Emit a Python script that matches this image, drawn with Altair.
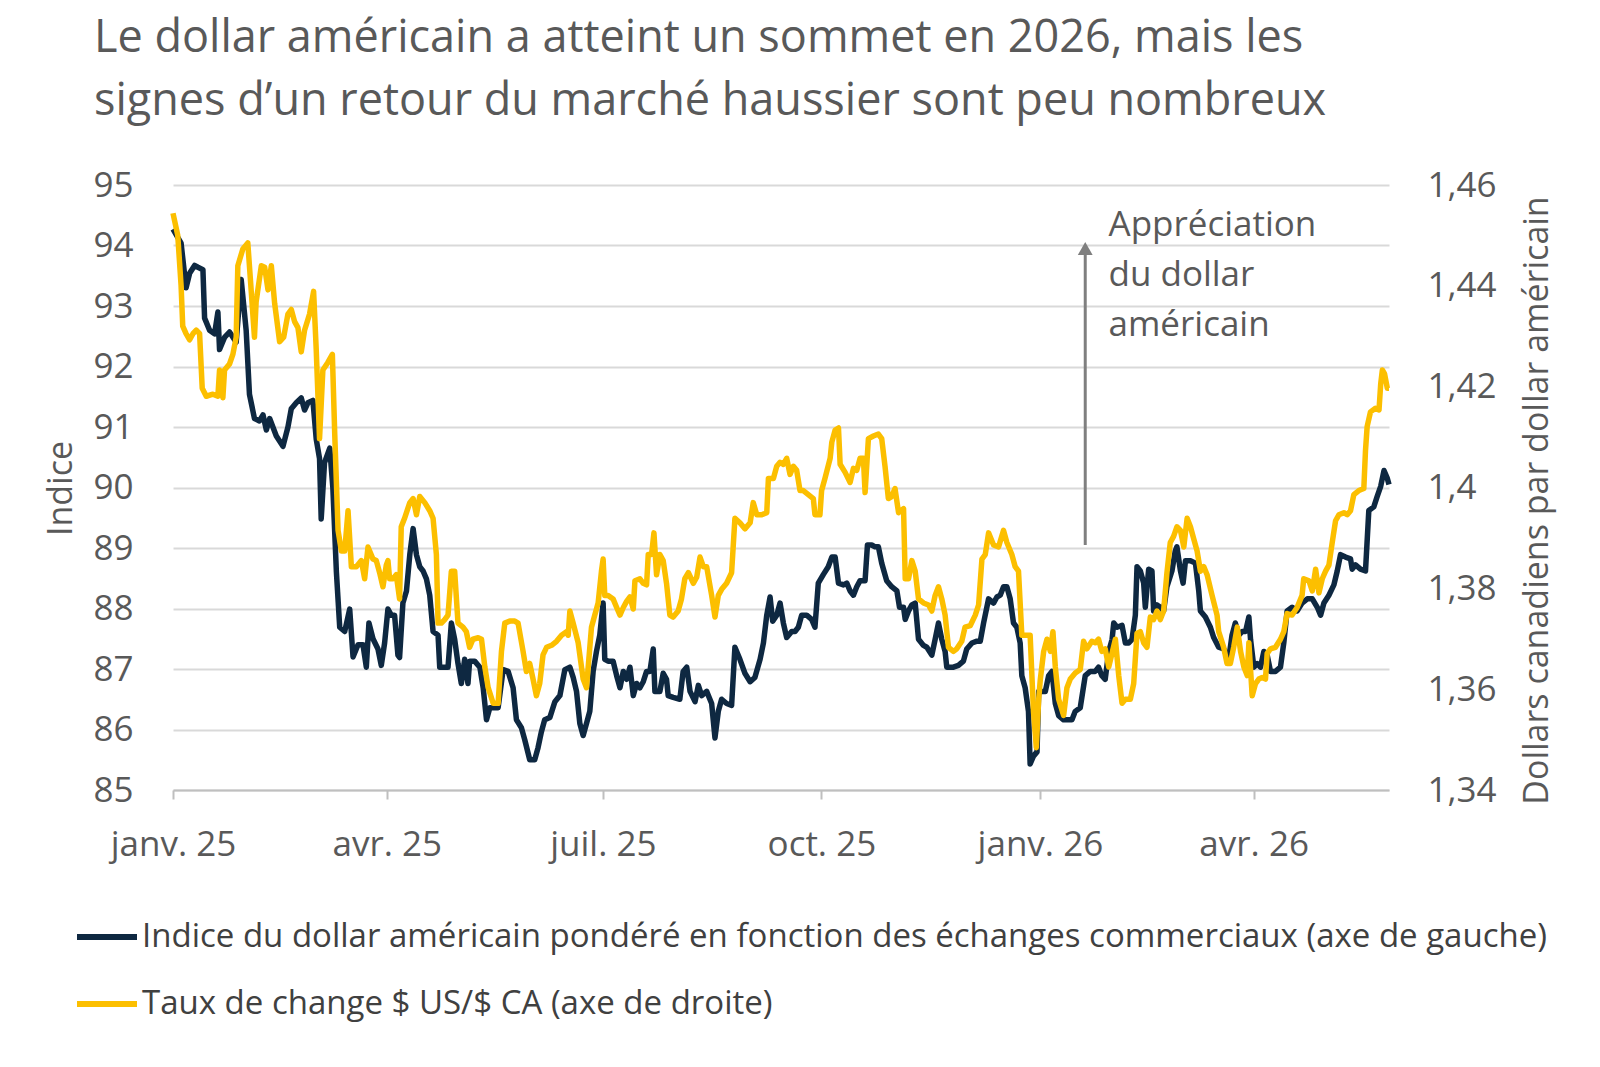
import altair as alt
import pandas as pd

FONT = "Open Sans"
TEXT_GREY = "#595959"

TITLE_LINES = [
    "Le dollar américain a atteint un sommet en 2026, mais les",
    "signes d’un retour du marché haussier sont peu nombreux",
]
NAVY_NAME = "Indice du dollar américain pondéré en fonction des échanges commerciaux (axe de gauche)"
CAD_NAME = "Taux de change $ US/$ CA (axe de droite)"
LEFT_TITLE = "Indice"
RIGHT_TITLE = "Dollars canadiens par dollar américain"

# Days counted from 1 January 2025
navy_days = [
    0, 3.4, 5.5, 7.0, 9.1, 10.5, 12.6, 13.3, 15.4, 17.5, 18.9, 19.6, 21.7, 23.8, 26.6, 28.7,
    30.8, 32.2, 34.3, 36.4, 37.9, 39.3, 40.7, 43.5, 46.3, 48.4, 49.8, 51.9, 54.0, 55.4, 56.8,
    58.9, 60.3, 61.7, 62.4, 63.8, 66.0, 67.3, 68.8, 70.2, 72.3, 74.4, 75.8, 77.9, 80.0, 81.4,
    82.5, 84.2,
    86.3, 87.7, 89.1, 90.5, 91.9, 93.3, 94.7, 95.4, 96.8, 98.3, 99.7, 101.1, 102.5, 103.9,
    105.3, 106.7, 108.1, 109.5, 111.6, 112.3, 114.4, 115.8, 117.2, 118.6, 120.0, 121.4, 122.8,
    124.2, 124.9, 127.0, 129.2, 130.6, 132.0, 133.4, 136.9, 139.0, 141.1, 143.2, 144.6, 146.7,
    148.1, 150.2, 152.3, 153.7, 155.1, 156.5, 158.7, 160.8, 162.9, 165.0, 167.1, 168.5, 169.9,
    171.3, 172.7, 174.1, 175.5,
    176.9, 178.3, 179.7, 181.1, 181.8, 183.2, 185.3, 186.8, 188.2, 189.6, 191.0, 192.4, 193.8,
    195.2, 196.6, 198.0, 199.4, 200.8, 202.2, 202.9, 205.0, 206.4, 207.8, 208.5, 210.6, 213.4,
    214.8, 216.3, 217.7, 219.8, 221.2, 222.6, 224.7, 226.8, 228.2, 229.6, 231.0, 233.1, 235.2,
    236.6, 238.7, 240.8, 243.0, 245.0, 247.2, 248.6, 250.0, 251.4, 252.5, 254.2, 255.6, 257.0,
    258.4, 260.5,
    261.9, 263.3, 264.7, 266.8, 268.9, 270.3, 271.7, 273.8, 275.9, 277.4, 278.8, 280.2, 282.3,
    283.7, 285.1, 286.5, 287.9, 289.3, 291.4, 292.4, 294.2, 295.6, 297.0, 298.4, 300.5, 302.6,
    304.8, 305.9, 307.6, 308.3, 309.7, 311.1, 312.5, 313.9, 316.0, 317.4, 319.5, 320.9, 322.3,
    323.7, 325.1, 325.8, 328.6, 330.7, 332.8, 334.2, 336.4, 338.5, 339.9, 341.3, 343.4, 345.5,
    346.9, 348.3, 349.7,
    351.1, 352.5, 353.9, 355.3, 356.7, 357.4, 358.8, 360.2, 360.9, 362.3, 363.8, 364.5, 365.9,
    367.3, 368.7, 370.1, 371.5, 372.9, 375.0, 377.1, 378.5, 379.9, 382.0, 384.1, 386.2, 388.3,
    389.7, 391.1, 392.5, 394.0, 395.4, 396.1, 397.5, 399.6, 401.0, 402.4, 403.8, 405.2, 405.9,
    407.3, 408.7, 409.4, 410.8, 412.2, 412.9, 414.3, 415.7, 417.1, 418.5, 420.6, 422.0, 422.7,
    424.2, 425.3, 426.3, 428.4, 430.5, 431.9, 432.6, 434.7, 436.8, 438.2,
    440.3, 442.4, 444.5, 445.9, 447.3, 448.8, 450.2, 451.6, 453.0, 453.7, 455.1, 456.5, 457.9,
    459.3, 460.7, 462.1, 464.2, 466.3, 467.7, 469.1, 471.2, 473.3, 475.4, 477.6, 479.7, 481.8,
    483.2, 484.6, 486.7, 488.8, 490.2, 491.6, 493.7, 495.8, 496.5, 497.9, 500.0, 502.1, 503.5,
    505.6, 507.0, 508.5, 509.9, 511.3, 512.0,
]
navy_vals = [
    94.27, 94.04, 93.30, 93.54, 93.67, 93.64, 93.60, 92.80, 92.60, 92.54, 92.90, 92.28, 92.48,
    92.57, 92.40, 93.44, 92.60, 91.54, 91.14, 91.10, 91.20, 90.95, 91.14, 90.85, 90.68, 91.00,
    91.30, 91.40, 91.48, 91.28, 91.40, 91.44, 90.80, 90.48, 89.48, 90.41, 90.65, 90.00, 88.60,
    87.69, 87.62, 87.99, 87.20, 87.40, 87.40, 87.03, 87.76, 87.50,
    87.33, 87.06, 87.43, 87.99, 87.89, 87.89, 87.23, 87.19, 88.09, 88.29, 88.89, 89.32, 88.89,
    88.69, 88.62, 88.49, 88.22, 87.62, 87.56, 87.03, 87.03, 87.03, 87.76, 87.49, 87.09, 86.76,
    87.16, 86.76, 87.13, 87.13, 87.03, 86.69, 86.16, 86.36, 86.36, 86.99, 86.96, 86.69, 86.16,
    86.03, 85.83, 85.50, 85.50, 85.70, 85.96, 86.16, 86.20, 86.46, 86.56, 86.99, 87.03, 86.86,
    86.63, 86.10, 85.90, 86.10, 86.30,
    86.96, 87.29, 87.56, 88.09, 87.16, 87.13, 87.13, 86.89, 86.69, 86.96, 86.83, 87.03, 86.56,
    86.76, 86.69, 86.79, 86.96, 86.96, 87.33, 86.63, 86.63, 86.93, 86.83, 86.56, 86.53, 86.50,
    86.96, 87.03, 86.63, 86.46, 86.73, 86.56, 86.63, 86.43, 85.86, 86.30, 86.50, 86.43, 86.40,
    87.36, 87.16, 86.93, 86.79, 86.86, 87.16, 87.43, 87.89, 88.19, 87.79, 87.89, 88.09, 87.76,
    87.52, 87.62,
    87.62, 87.69, 87.89, 87.89, 87.82, 87.69, 88.42, 88.56, 88.69, 88.85, 88.85, 88.42, 88.39,
    88.42, 88.29, 88.22, 88.36, 88.46, 88.46, 89.05, 89.05, 89.02, 89.02, 88.75, 88.46, 88.36,
    88.29, 88.02, 88.02, 87.82, 87.96, 88.06, 88.09, 87.49, 87.39, 87.36, 87.23, 87.49, 87.76,
    87.49, 87.29, 87.03, 87.03, 87.06, 87.13, 87.33, 87.43, 87.46, 87.46, 87.76, 88.16, 88.09,
    88.19, 88.22, 88.36,
    88.36, 88.16, 87.76, 87.69, 87.43, 86.89, 86.69, 86.30, 85.43, 85.56, 85.63, 86.63, 86.63,
    86.63, 86.89, 86.96, 86.43, 86.23, 86.16, 86.16, 86.16, 86.30, 86.36, 86.89, 86.96, 86.96,
    87.03, 86.89, 86.83, 87.29, 87.49, 87.76, 87.69, 87.72, 87.43, 87.43, 87.49, 87.89, 88.69,
    88.62, 88.42, 88.02, 88.65, 88.62, 87.96, 88.06, 88.02, 87.96, 88.36, 88.62, 88.95, 89.02,
    88.62, 88.42, 88.79, 88.79, 88.75, 88.29, 87.96, 87.86, 87.69, 87.52,
    87.36, 87.33, 87.16, 87.56, 87.76, 87.56, 87.62, 87.62, 87.86, 87.49, 87.03, 87.09, 87.03,
    87.29, 87.23, 86.96, 86.96, 87.03, 87.43, 87.96, 88.02, 87.96, 88.09, 88.16, 88.16, 88.02,
    87.89, 88.09, 88.22, 88.39, 88.62, 88.89, 88.85, 88.82, 88.65, 88.72, 88.65, 88.62, 89.62,
    89.68, 89.85, 90.02, 90.28, 90.15, 90.05,
]

cad_days = [
    0, 2.0, 3.4, 4.1, 5.5, 7.0, 8.4, 9.8, 11.2, 12.3, 14.0, 16.8, 18.9, 19.6, 21.0, 21.7, 23.8,
    25.2, 26.6, 27.3, 29.4, 31.5, 32.9, 34.3, 35.0, 37.2, 38.6, 40.0, 41.4, 42.8, 44.9, 46.6,
    48.4, 49.8, 51.2, 52.6, 54.0, 55.4, 57.5, 59.2, 60.3, 61.7, 63.1, 65.2, 67.1, 68.1, 69.5,
    70.9, 72.3, 73.7, 75.1, 77.2, 79.3, 80.7, 82.1, 84.2,
    85.6, 87.0, 88.4, 89.8, 90.5, 91.2, 92.6, 94.0, 95.4, 96.1, 97.5, 99.7, 101.1, 102.5, 103.9,
    106.0, 108.1, 109.5, 110.9, 111.6, 113.0, 114.4, 115.8, 117.2, 118.6, 120.0, 122.1, 123.5,
    124.9, 126.3, 128.5, 129.9, 131.3, 132.7, 134.8, 136.9, 138.3, 139.7, 141.8, 143.9, 145.3,
    147.4, 148.8, 150.2, 151.6, 153.0, 154.4, 155.8, 157.3, 159.4, 161.5, 163.6, 165.7, 166.4,
    167.1, 168.5, 170.6, 172.7, 174.1,
    176.2, 177.6, 179.0, 180.4, 181.1, 181.8, 183.2, 185.3, 186.8, 188.2, 189.6, 191.0, 192.4,
    193.8, 194.5, 196.6, 198.0, 199.4, 200.1, 201.5, 202.5, 203.6, 205.0, 206.4, 207.8, 209.2,
    210.6, 212.7, 214.1, 215.5, 217.0, 219.1, 220.5, 221.9, 223.3, 224.7, 226.8, 228.2, 229.6,
    231.0, 233.1, 235.2, 236.6, 238.7, 240.8, 243.0, 244.3, 245.8, 247.9, 250.0, 250.7, 252.8,
    254.2, 255.6, 257.0, 258.4, 259.8, 261.2, 262.6,
    264.0, 265.4, 267.5, 269.6, 270.3, 272.4, 273.1, 274.5, 276.7, 277.4, 278.8, 280.2, 280.9,
    283.0, 285.1, 286.5, 287.9, 289.3, 290.7, 291.4, 292.8, 294.9, 297.0, 298.4, 299.8, 301.2,
    302.6, 304.0, 305.5, 307.6, 308.3, 309.7, 311.1, 312.5, 313.9, 316.0, 318.1, 319.5, 320.9,
    322.3, 323.7, 325.1, 326.5, 328.6, 330.0, 332.1, 333.5, 335.7, 337.8, 339.2, 340.6, 342.0,
    343.4, 345.5, 347.6, 349.7, 351.1,
    353.2, 354.6, 356.0, 357.4, 359.5, 360.9, 362.3, 363.5, 364.5, 365.2, 366.6, 368.0, 369.4,
    370.5, 371.5, 372.9, 375.0, 376.4, 377.8, 379.9, 382.0, 383.4, 384.8, 386.9, 388.3, 389.7,
    391.1, 392.5, 394.0, 396.8, 398.2, 399.6, 401.0, 403.1, 404.5, 405.9, 407.3, 408.7, 410.1,
    411.5, 412.9, 414.3, 415.7, 417.1, 418.5, 419.9, 421.3, 422.7, 424.2, 425.6, 427.0, 428.4,
    429.8, 431.2, 432.6, 434.0, 435.4, 437.5, 439.6,
    440.3, 442.4, 443.8, 445.2, 446.6, 448.1, 449.5, 450.9, 452.3, 453.0, 454.4, 455.8, 457.2,
    458.6, 460.0, 460.7, 462.1, 464.2, 466.3, 467.7, 469.1, 471.2, 473.3, 475.4, 476.1, 478.3,
    479.7, 481.1, 482.5, 483.9, 485.3, 486.7, 488.1, 489.5, 490.9, 493.0, 494.4, 495.8, 497.2,
    499.3, 501.4, 502.1, 502.8, 504.2, 506.3, 507.8, 508.5, 509.2, 510.1, 511.3, 512.0,
]
cad_vals = [
    1.4544, 1.4500, 1.4401, 1.4320, 1.4305, 1.4293, 1.4305, 1.4312, 1.4305, 1.4197, 1.4181,
    1.4185, 1.4181, 1.4233, 1.4178, 1.4233, 1.4245, 1.4264, 1.4298, 1.4440, 1.4473, 1.4485,
    1.4392, 1.4298, 1.4368, 1.4440, 1.4437, 1.4392, 1.4440, 1.4365, 1.4289, 1.4298, 1.4344,
    1.4353, 1.4329, 1.4317, 1.4269, 1.4312, 1.4344, 1.4389, 1.4274, 1.4097, 1.4233, 1.4248,
    1.4264, 1.4106, 1.3915, 1.3874, 1.3874, 1.3954, 1.3843, 1.3843, 1.3855, 1.3819, 1.3882,
    1.3858,
    1.3855, 1.3831, 1.3803, 1.3846, 1.3855, 1.3819, 1.3819, 1.3827, 1.3779, 1.3922, 1.3939,
    1.3970, 1.3978, 1.3946, 1.3982, 1.3970, 1.3954, 1.3939, 1.3867, 1.3731, 1.3731, 1.3738,
    1.3747, 1.3834, 1.3834, 1.3731, 1.3723, 1.3714, 1.3683, 1.3699, 1.3702, 1.3699, 1.3644,
    1.3603, 1.3572, 1.3572, 1.3675, 1.3731, 1.3735, 1.3735, 1.3731, 1.3675, 1.3635, 1.3651,
    1.3620, 1.3587, 1.3611, 1.3668, 1.3683, 1.3687, 1.3695, 1.3707, 1.3714, 1.3707, 1.3755,
    1.3731, 1.3692, 1.3620, 1.3603,
    1.3723, 1.3747, 1.3771, 1.3834, 1.3858, 1.3786, 1.3786, 1.3779, 1.3762, 1.3747, 1.3762,
    1.3774, 1.3783, 1.3759, 1.3815, 1.3819, 1.3810, 1.3807, 1.3867, 1.3867, 1.3910, 1.3827,
    1.3867, 1.3855, 1.3810, 1.3747, 1.3743, 1.3755, 1.3779, 1.3819, 1.3831, 1.3810, 1.3822,
    1.3862, 1.3843, 1.3843, 1.3786, 1.3743, 1.3786, 1.3798, 1.3810, 1.3831, 1.3939, 1.3930,
    1.3918, 1.3930, 1.3970, 1.3946, 1.3946, 1.3950, 1.4018, 1.4018, 1.4042, 1.4050, 1.4046,
    1.4058, 1.4026, 1.4042, 1.4034,
    1.3994, 1.3994, 1.3986, 1.3978, 1.3946, 1.3946, 1.3994, 1.4018, 1.4058, 1.4090, 1.4114,
    1.4118, 1.4046, 1.4030, 1.4010, 1.4038, 1.4034, 1.4058, 1.4058, 1.3990, 1.4097, 1.4102,
    1.4106, 1.4097, 1.4042, 1.3978, 1.3982, 1.3998, 1.3950, 1.3958, 1.3819, 1.3819, 1.3855,
    1.3834, 1.3779, 1.3771, 1.3767, 1.3755, 1.3786, 1.3803, 1.3779, 1.3747, 1.3683, 1.3675,
    1.3680, 1.3695, 1.3723, 1.3726, 1.3747, 1.3767, 1.3858, 1.3867, 1.3910, 1.3886, 1.3882,
    1.3915, 1.3891,
    1.3867, 1.3843, 1.3834, 1.3707, 1.3707, 1.3707, 1.3556, 1.3484, 1.3580, 1.3620, 1.3675,
    1.3699, 1.3675, 1.3714, 1.3644, 1.3580, 1.3548, 1.3603, 1.3620, 1.3632, 1.3639, 1.3695,
    1.3680, 1.3695, 1.3692, 1.3699, 1.3675, 1.3680, 1.3644, 1.3699, 1.3627, 1.3572, 1.3580,
    1.3580, 1.3611, 1.3711, 1.3714, 1.3692, 1.3683, 1.3743, 1.3738, 1.3755, 1.3738, 1.3755,
    1.3831, 1.3891, 1.3903, 1.3922, 1.3915, 1.3882, 1.3939, 1.3922, 1.3898, 1.3874, 1.3834,
    1.3843, 1.3827, 1.3786, 1.3747,
    1.3714, 1.3683, 1.3651, 1.3651, 1.3683, 1.3723, 1.3675, 1.3644, 1.3627, 1.3692, 1.3587,
    1.3611, 1.3620, 1.3623, 1.3620, 1.3671, 1.3680, 1.3683, 1.3699, 1.3714, 1.3750, 1.3747,
    1.3762, 1.3786, 1.3819, 1.3815, 1.3795, 1.3838, 1.3791, 1.3819, 1.3834, 1.3846, 1.3891,
    1.3934, 1.3946, 1.3950, 1.3946, 1.3954, 1.3986, 1.3994, 1.3998, 1.4073, 1.4121, 1.4150,
    1.4157, 1.4154, 1.4205, 1.4233, 1.4226, 1.4197, 1.4197,
]

left_ticks = [85, 86, 87, 88, 89, 90, 91, 92, 93, 94, 95]
right_ticks = [1.34, 1.36, 1.38, 1.40, 1.42, 1.44, 1.46]
x_tick_dates = [(2025, 1), (2025, 4), (2025, 7), (2025, 10), (2026, 1), (2026, 4)]

annot_lines = ["Appréciation", "du dollar", "américain"]
annot_day = 393.9
annot_vals = [94.34, 93.51, 92.69]
arrow_day = 384.1
arrow_from = 89.05
arrow_to = 93.95

BASE = pd.Timestamp("2025-01-01")


def to_dates(days):
    return BASE + pd.to_timedelta(pd.Series(days, dtype=float), unit="D")


navy_df = pd.DataFrame({"date": to_dates(navy_days), "value": navy_vals, "series": NAVY_NAME})
cad_df = pd.DataFrame({"date": to_dates(cad_days), "value": cad_vals, "series": CAD_NAME})
annot_df = pd.DataFrame({"date": to_dates([annot_day] * 3), "value": annot_vals, "label": annot_lines})
arrow_df = pd.DataFrame({"date": to_dates([arrow_day]), "value": [arrow_from], "value2": [arrow_to]})

month_expr = (
    "['janv.','févr.','mars','avr.','mai','juin','juil.','août','sept.','oct.','nov.','déc.']"
    "[month(datum.value)] + ' ' + timeFormat(datum.value, '%y')"
)

x_scale = alt.Scale(
    domain=[alt.DateTime(year=2025, month=1, date=1), alt.DateTime(year=2026, month=5, date=28)],
    nice=False,
)
x_axis = alt.Axis(
    values=[alt.DateTime(year=y, month=m, date=1) for y, m in x_tick_dates],
    labelExpr=month_expr,
    title=None,
    grid=False,
    domain=True,
    domainColor="#bfbfbf",
    domainWidth=2,
    ticks=True,
    tickColor="#bfbfbf",
    tickWidth=2,
    tickSize=9,
    labelPadding=28,
    labelFlush=False,
    labelOverlap=False,
    labelFont=FONT,
    labelFontSize=35,
    labelColor=TEXT_GREY,
)
x_enc = alt.X("date:T", scale=x_scale, axis=x_axis)

left_scale = alt.Scale(domain=[85, 95], nice=False, zero=False)
right_scale = alt.Scale(domain=[1.34, 1.46], nice=False, zero=False)

left_axis = alt.Axis(
    values=left_ticks,
    title=LEFT_TITLE,
    grid=True,
    gridColor="#d9d9d9",
    gridWidth=2,
    domain=False,
    ticks=False,
    tickSize=0,
    labelPadding=40,
    labelFont=FONT,
    labelFontSize=35,
    labelColor=TEXT_GREY,
    titleFont=FONT,
    titleFontSize=34,
    titleFontWeight="normal",
    titleColor=TEXT_GREY,
    titleAngle=270,
    titleX=-112,
    titleY=303,
    titleAlign="center",
    titleBaseline="middle",
)

color_enc = alt.Color(
    "series:N",
    scale=alt.Scale(domain=[NAVY_NAME, CAD_NAME], range=["#0e2841", "#fcbf00"]),
    legend=alt.Legend(
        title=None,
        orient="none",
        legendX=-99,
        legendY=719,
        direction="vertical",
        symbolType="stroke",
        symbolStrokeWidth=6,
        symbolSize=3600,
        labelFont=FONT,
        labelFontSize=33,
        labelColor="#404040",
        labelLimit=3000,
        rowPadding=17,
        labelOffset=2,
        padding=0,
    ),
)

navy_line = alt.Chart(navy_df).mark_line(strokeWidth=5.5, strokeJoin="round").encode(
    x=x_enc,
    y=alt.Y("value:Q", scale=left_scale, axis=left_axis),
    color=color_enc,
)

arrow_rule = alt.Chart(arrow_df).mark_rule(color="#7f7f7f", strokeWidth=3).encode(
    x=alt.X("date:T", scale=x_scale, axis=x_axis),
    y=alt.Y("value:Q", scale=left_scale, axis=left_axis),
    y2="value2:Q",
)
arrow_head = alt.Chart(arrow_df).mark_point(
    shape="triangle-up", filled=True, color="#7f7f7f", size=220, opacity=1
).encode(
    x=alt.X("date:T", scale=x_scale, axis=x_axis),
    y=alt.Y("value2:Q", scale=left_scale, axis=left_axis),
)
annot_text = alt.Chart(annot_df).mark_text(
    align="left", baseline="middle", font=FONT, fontSize=35, color=TEXT_GREY
).encode(
    x=alt.X("date:T", scale=x_scale, axis=x_axis),
    y=alt.Y("value:Q", scale=left_scale, axis=left_axis),
    text="label:N",
)

left_layer = alt.layer(navy_line, arrow_rule, arrow_head, annot_text)

cad_line = alt.Chart(cad_df).mark_line(strokeWidth=5.5, strokeJoin="round").encode(
    x=x_enc,
    y=alt.Y(
        "value:Q",
        scale=right_scale,
        axis=alt.Axis(
            orient="right",
            values=right_ticks,
            labelExpr="replace(format(datum.value, '.2~f'), '.', ',')",
            title=RIGHT_TITLE,
            grid=False,
            domain=False,
            ticks=False,
            tickSize=0,
            labelPadding=38,
            labelFont=FONT,
            labelFontSize=35,
            labelColor=TEXT_GREY,
            titleFont=FONT,
            titleFontSize=34,
            titleFontWeight="normal",
            titleColor=TEXT_GREY,
            titleAngle=270,
            titleX=148,
            titleY=315,
            titleAlign="center",
            titleBaseline="middle",
        ),
    ),
    color=color_enc,
)

chart = (
    alt.layer(left_layer, cad_line)
    .resolve_scale(y="independent")
    .properties(
        width=1216,
        height=605,
        autosize=alt.AutoSizeParams(type="none"),
        padding={"left": 173, "top": 185, "right": 210, "bottom": 277},
        background="white",
        title=alt.TitleParams(
            text=TITLE_LINES,
            anchor="start",
            frame="group",
            font=FONT,
            fontSize=45,
            fontWeight="normal",
            color=TEXT_GREY,
            lineHeight=63,
            dx=-79,
            offset=8,
            baseline="alphabetic",
        ),
    )
    .configure_view(stroke=None)
)

chart.save("out.html", embed_options={"renderer": "svg", "actions": False})
